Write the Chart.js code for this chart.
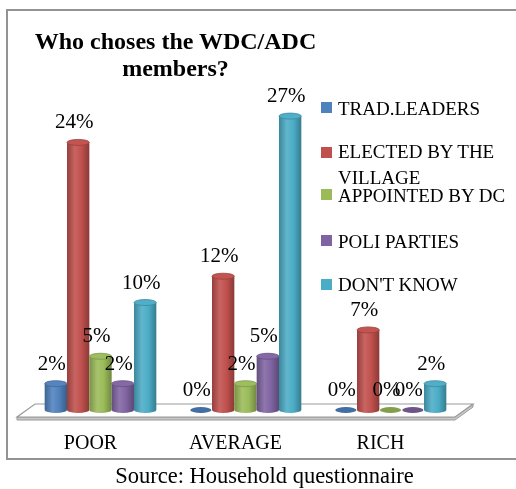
<!DOCTYPE html>
<html>
<head>
<meta charset="utf-8">
<script src="https://cdn.jsdelivr.net/npm/chart.js@4/dist/chart.umd.min.js"></script>
<style>
  html, body { margin: 0; padding: 0; background: #fff; }
  #wrap { position: relative; width: 516px; height: 489px; overflow: hidden; background: #fff; }
  #frame { position: absolute; left: 6px; top: 9px; width: 530px; height: 447px; border: 2px solid #939393; box-sizing: content-box; }
  canvas { position: absolute; left: 0; top: 0; }
  #title { position: absolute; left: 15px; top: 28px; width: 321px; text-align: center;
           font: bold 24px/27px "Liberation Serif", serif; color: #000; }
  .lg { position: absolute; left: 338px; width: 176px; font: 19px/26px "Liberation Serif", serif; color: #000; white-space: normal; }
  .sw { position: absolute; left: 321px; width: 11px; height: 11px; }
  #source { position: absolute; left: 0; top: 464px; width: 529px; text-align: center;
            font: 22.5px/24px "Liberation Serif", serif; color: #000; }
</style>
</head>
<body>
<div id="wrap">
  <div id="frame"></div>
  <canvas id="c" width="516" height="489"></canvas>
  <div id="title">Who choses the WDC/ADC<br>members?</div>
  <div id="legend"></div>
  <div id="source">Source: Household questionnaire</div>
</div>
<script>
// ---- data ----
const categories = ['POOR', 'AVERAGE', 'RICH'];
const seriesNames = ['TRAD.LEADERS', 'ELECTED BY THE VILLAGE', 'APPOINTED BY DC', 'POLI PARTIES', "DON'T KNOW"];
const tradLeaders = [2.4, 0, 0];
const electedByVillage = [24.4, 12.2, 7.3];
const appointedByDC = [4.9, 2.4, 0];
const poliParties = [2.4, 4.9, 0];
const dontKnow = [9.8, 26.8, 2.4];
const seriesColors = ['#4F81BD', '#C0504D', '#9BBB59', '#8064A2', '#4BACC6'];

const seriesValues = [tradLeaders, electedByVillage, appointedByDC, poliParties, dontKnow];

// ---- legend (HTML) ----
const legendTops = [95.6, 138.6, 183.3, 228.6, 272.3];
const legendSw = [102, 147, 189, 235, 279];
const legendEl = document.getElementById('legend');
seriesNames.forEach((n, i) => {
  const sw = document.createElement('div');
  sw.className = 'sw';
  sw.style.top = legendSw[i] + 'px';
  sw.style.background = seriesColors[i];
  legendEl.appendChild(sw);
  const t = document.createElement('div');
  t.className = 'lg';
  t.style.top = legendTops[i] + 'px';
  t.textContent = n;
  legendEl.appendChild(t);
});

function shade(hex, f) {
  const n = parseInt(hex.slice(1), 16);
  let r = (n >> 16) & 255, g = (n >> 8) & 255, b = n & 255;
  const adj = v => Math.max(0, Math.min(255, Math.round(f >= 1 ? v + (255 - v) * (f - 1) : v * f)));
  return `rgb(${adj(r)},${adj(g)},${adj(b)})`;
}

function cylinder(ctx, x, top, bottom, rx, ry, col) {
  const g = ctx.createLinearGradient(x - rx, 0, x + rx, 0);
  g.addColorStop(0, shade(col, 0.78));
  g.addColorStop(0.35, shade(col, 1.12));
  g.addColorStop(0.65, shade(col, 1.0));
  g.addColorStop(1, shade(col, 0.72));
  ctx.beginPath();
  ctx.moveTo(x - rx, top);
  ctx.lineTo(x - rx, bottom);
  ctx.ellipse(x, bottom, rx, ry, 0, Math.PI, 0, true);
  ctx.lineTo(x + rx, top);
  ctx.closePath();
  ctx.fillStyle = g;
  ctx.fill();
  ctx.beginPath();
  ctx.ellipse(x, top, rx, ry, 0, 0, Math.PI * 2);
  ctx.fillStyle = shade(col, 1.03);
  ctx.fill();
  ctx.strokeStyle = shade(col, 0.8);
  ctx.lineWidth = 0.8;
  ctx.stroke();
}

const cylPlugin = {
  id: 'cyl',
  beforeDatasetsDraw(chart) {
    const ctx = chart.ctx, ca = chart.chartArea;
    const y0 = chart.scales.y.getPixelForValue(0);
    const fl = ca.left - 11, bl = ca.left + 7, fr = ca.right - 8, br = ca.right + 10;
    const fy = y0 + 7, by = y0 - 6;
    ctx.save();
    ctx.beginPath();
    ctx.moveTo(fl, fy); ctx.lineTo(fr, fy); ctx.lineTo(br, by); ctx.lineTo(br, by + 3); ctx.lineTo(fr, fy + 3); ctx.lineTo(fl, fy + 3); ctx.closePath();
    ctx.fillStyle = '#c8c8c8'; ctx.fill();
    ctx.strokeStyle = '#9a9a9a'; ctx.lineWidth = 1; ctx.stroke();
    ctx.beginPath();
    ctx.moveTo(fl, fy); ctx.lineTo(fr, fy); ctx.lineTo(br, by); ctx.lineTo(bl, by); ctx.closePath();
    ctx.fillStyle = '#ffffff'; ctx.fill();
    ctx.strokeStyle = '#9a9a9a'; ctx.lineWidth = 1.2; ctx.stroke();
    ctx.restore();
  },
  afterDatasetsDraw(chart) {
    const ctx = chart.ctx;
    ctx.save();
    chart.data.datasets.forEach((ds, i) => {
      const meta = chart.getDatasetMeta(i);
      meta.data.forEach((el, j) => {
        const v = ds.data[j];
        const rx = el.width / 2, ry = 3;
        if (v > 0) {
          cylinder(ctx, el.x, el.y, el.base, rx, ry, seriesColors[i]);
        } else {
          ctx.beginPath();
          ctx.ellipse(el.x, el.base, rx * 0.95, ry, 0, 0, Math.PI * 2);
          ctx.fillStyle = shade(seriesColors[i], 0.85);
          ctx.fill();
        }
      });
    });
    ctx.font = '21px "Liberation Serif"';
    ctx.fillStyle = '#000';
    ctx.textAlign = 'center';
    ctx.textBaseline = 'alphabetic';
    chart.data.datasets.forEach((ds, i) => {
      const meta = chart.getDatasetMeta(i);
      meta.data.forEach((el, j) => {
        ctx.fillText(Math.round(ds.data[j]) + '%', el.x - 4, el.y - 14);
      });
    });
    ctx.restore();
  }
};

new Chart(document.getElementById('c'), {
  type: 'bar',
  data: {
    labels: categories,
    datasets: seriesNames.map((n, i) => ({
      label: n,
      data: seriesValues[i],
      backgroundColor: 'rgba(0,0,0,0)',
      borderWidth: 0,
      barPercentage: 1.0,
      categoryPercentage: 0.77
    }))
  },
  options: {
    responsive: false,
    animation: false,
    devicePixelRatio: 1,
    layout: { padding: { left: 28, right: 53, top: 81, bottom: 11 } },
    plugins: { legend: { display: false }, title: { display: false }, tooltip: { enabled: false } },
    scales: {
      x: {
        grid: { display: false, drawTicks: false },
        border: { display: false },
        ticks: { color: '#000', font: { family: 'Liberation Serif', size: 20 }, padding: 22, labelOffset: -10, maxRotation: 0, autoSkip: false }
      },
      y: { display: false, min: 0, max: 30 }
    }
  },
  plugins: [cylPlugin]
});
</script>
</body>
</html>
